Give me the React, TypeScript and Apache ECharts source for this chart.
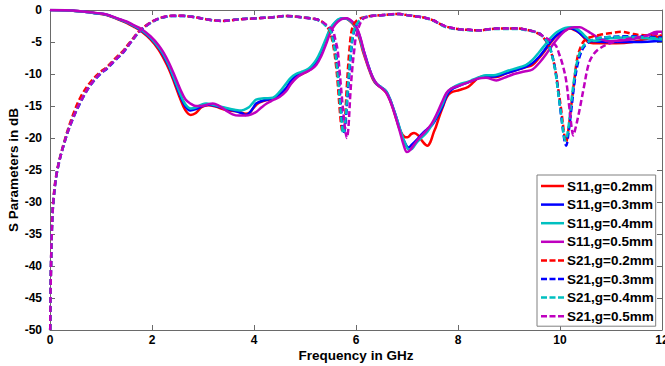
import React, { useEffect, useRef } from "react";
import * as echarts from "echarts";

const xTicks = [0, 2, 4, 6, 8, 10, 12];
const yTicks = [-50, -45, -40, -35, -30, -25, -20, -15, -10, -5, 0];

const seriesNames = [
  "S11,g=0.2mm", "S11,g=0.3mm", "S11,g=0.4mm", "S11,g=0.5mm",
  "S21,g=0.2mm", "S21,g=0.3mm", "S21,g=0.4mm", "S21,g=0.5mm",
];
const seriesColors = ["#ff0000", "#0000ff", "#00c0c0", "#bf00bf", "#ff0000", "#0000ff", "#00c0c0", "#bf00bf"];

const s11_g02 = [[0,0],[0.3,-0.02],[0.6,-0.2],[0.9,-0.5],[1.11,-0.8],[1.32,-1.4],[1.5,-2.0],[1.64,-2.6],[1.8,-3.4],[1.97,-4.6],[2.13,-6.2],[2.23,-7.6],[2.33,-9.2],[2.43,-11.2],[2.55,-13.8],[2.65,-15.6],[2.76,-16.4],[2.86,-16.1],[2.97,-15.2],[3.1,-14.9],[3.25,-15.1],[3.4,-15.5],[3.52,-15.7],[3.7,-15.9],[3.84,-16.2],[3.92,-16.0],[4.0,-15.2],[4.1,-14.5],[4.23,-14.1],[4.37,-13.9],[4.5,-13.4],[4.63,-12.5],[4.72,-11.5],[4.82,-10.6],[4.92,-10.1],[5.02,-9.7],[5.12,-9.2],[5.22,-8.4],[5.32,-6.8],[5.41,-5.0],[5.5,-3.2],[5.6,-2.1],[5.7,-1.4],[5.78,-1.3],[5.86,-1.6],[5.94,-2.2],[6.0,-3.0],[6.07,-4.5],[6.13,-6.3],[6.2,-8.0],[6.26,-9.4],[6.33,-10.8],[6.4,-11.6],[6.5,-12.2],[6.59,-12.9],[6.66,-14.0],[6.72,-15.3],[6.8,-17.3],[6.87,-18.9],[6.95,-19.8],[7.01,-19.9],[7.08,-19.4],[7.14,-19.2],[7.22,-19.6],[7.3,-20.5],[7.4,-21.2],[7.46,-20.6],[7.52,-19.2],[7.57,-18.2],[7.64,-16.5],[7.7,-15.2],[7.78,-13.6],[7.86,-12.9],[8.03,-12.5],[8.2,-12.0],[8.3,-11.3],[8.42,-10.5],[8.55,-10.4],[8.7,-10.5],[8.8,-10.4],[8.94,-9.9],[9.1,-9.5],[9.33,-8.9],[9.46,-8.6],[9.59,-7.5],[9.7,-6.4],[9.79,-5.4],[9.9,-4.3],[9.99,-3.7],[10.1,-3.2],[10.19,-2.9],[10.3,-3.2],[10.39,-3.65],[10.47,-4.3],[10.55,-5.0],[10.65,-5.2],[10.78,-5.2],[11.1,-5.2],[11.42,-5.0],[11.75,-4.4],[12,-4.1]];

const s11_g03 = [[0,0],[0.3,-0.02],[0.6,-0.2],[0.9,-0.5],[1.11,-0.75],[1.32,-1.35],[1.5,-1.9],[1.64,-2.5],[1.8,-3.25],[1.97,-4.4],[2.13,-5.9],[2.23,-7.2],[2.33,-8.8],[2.43,-10.8],[2.55,-13.3],[2.65,-15.0],[2.75,-15.7],[2.86,-15.5],[2.99,-15.0],[3.12,-14.8],[3.25,-15.0],[3.45,-15.4],[3.6,-15.7],[3.75,-16.1],[3.84,-16.4],[3.92,-16.0],[4.0,-15.1],[4.04,-14.6],[4.2,-14.1],[4.37,-13.8],[4.5,-13.2],[4.63,-12.2],[4.72,-11.1],[4.82,-10.3],[4.92,-9.9],[5.02,-9.6],[5.12,-9.1],[5.22,-8.2],[5.32,-6.6],[5.41,-4.8],[5.5,-3.0],[5.6,-1.9],[5.7,-1.35],[5.78,-1.3],[5.86,-1.5],[5.94,-2.0],[6.0,-2.7],[6.07,-4.0],[6.13,-5.8],[6.2,-7.6],[6.26,-9.1],[6.33,-10.6],[6.4,-11.5],[6.5,-12.1],[6.59,-12.7],[6.66,-13.8],[6.72,-15.1],[6.8,-17.0],[6.87,-18.9],[6.95,-20.6],[7.03,-21.5],[7.1,-21.0],[7.2,-20.2],[7.3,-19.3],[7.4,-18.6],[7.5,-17.9],[7.6,-16.6],[7.7,-15.0],[7.78,-13.4],[7.86,-12.5],[8.03,-11.8],[8.2,-11.3],[8.29,-11.0],[8.42,-10.6],[8.55,-10.4],[8.7,-10.4],[8.81,-10.2],[8.94,-9.9],[9.1,-9.5],[9.33,-8.9],[9.46,-8.3],[9.59,-7.3],[9.7,-6.2],[9.79,-5.2],[9.9,-4.2],[9.99,-3.6],[10.1,-3.0],[10.2,-2.8],[10.3,-3.1],[10.4,-3.7],[10.5,-4.4],[10.6,-4.8],[10.7,-4.9],[11.0,-5.0],[11.5,-5.0],[12,-4.8]];

const s11_g04 = [[0,0],[0.3,-0.02],[0.6,-0.2],[0.9,-0.5],[1.11,-0.75],[1.32,-1.35],[1.5,-1.9],[1.64,-2.45],[1.8,-3.15],[1.97,-4.3],[2.13,-5.8],[2.23,-7.0],[2.33,-8.6],[2.43,-10.6],[2.55,-13.0],[2.65,-14.7],[2.76,-15.4],[2.87,-15.2],[2.97,-14.8],[3.06,-14.6],[3.2,-14.8],[3.35,-15.1],[3.5,-15.4],[3.62,-15.6],[3.71,-15.7],[3.8,-15.6],[3.9,-15.2],[3.97,-14.6],[4.04,-14.0],[4.2,-13.8],[4.37,-13.7],[4.5,-12.8],[4.63,-11.5],[4.72,-10.6],[4.82,-10.0],[4.92,-9.7],[5.02,-9.4],[5.12,-8.8],[5.22,-7.8],[5.32,-6.2],[5.41,-4.5],[5.5,-2.8],[5.6,-1.8],[5.68,-1.35],[5.76,-1.3],[5.85,-1.5],[5.93,-2.0],[6.0,-2.8],[6.07,-4.2],[6.13,-6.0],[6.2,-7.8],[6.26,-9.2],[6.33,-10.6],[6.4,-11.5],[6.5,-12.1],[6.59,-12.7],[6.66,-13.8],[6.72,-15.1],[6.8,-17.0],[6.88,-19.0],[6.96,-20.8],[7.04,-21.8],[7.1,-21.7],[7.18,-20.8],[7.28,-20.0],[7.4,-19.0],[7.5,-17.8],[7.6,-16.2],[7.7,-14.6],[7.78,-13.0],[7.86,-12.3],[8.03,-11.6],[8.2,-11.2],[8.29,-10.9],[8.42,-10.5],[8.55,-10.2],[8.7,-10.2],[8.81,-10.0],[8.94,-9.6],[9.1,-9.2],[9.33,-8.6],[9.46,-7.8],[9.59,-6.6],[9.7,-5.5],[9.79,-4.6],[9.9,-3.7],[9.99,-3.2],[10.1,-2.8],[10.22,-2.7],[10.32,-2.9],[10.42,-3.5],[10.52,-4.3],[10.62,-4.8],[10.7,-4.8],[10.98,-4.4],[11.3,-4.3],[11.7,-4.4],[12,-4.6]];

const s11_g05 = [[0,0],[0.3,-0.02],[0.6,-0.18],[0.9,-0.45],[1.11,-0.7],[1.32,-1.3],[1.5,-1.8],[1.64,-2.35],[1.8,-3.0],[1.97,-4.1],[2.13,-5.5],[2.23,-6.7],[2.33,-8.2],[2.43,-10.0],[2.55,-12.3],[2.65,-13.9],[2.75,-14.6],[2.86,-15.0],[2.97,-15.0],[3.08,-14.8],[3.19,-14.6],[3.3,-14.9],[3.45,-15.7],[3.58,-16.3],[3.7,-16.5],[3.84,-16.5],[3.95,-16.3],[4.05,-15.9],[4.15,-15.2],[4.25,-14.6],[4.37,-14.1],[4.5,-13.6],[4.63,-12.7],[4.72,-11.6],[4.82,-10.7],[4.92,-10.1],[5.02,-9.7],[5.12,-9.3],[5.22,-8.6],[5.32,-7.2],[5.41,-5.4],[5.5,-3.5],[5.6,-2.2],[5.7,-1.5],[5.8,-1.3],[5.88,-1.5],[5.96,-2.1],[6.03,-3.0],[6.1,-4.7],[6.16,-6.6],[6.22,-8.3],[6.29,-9.8],[6.36,-11.0],[6.44,-11.8],[6.55,-12.5],[6.62,-13.3],[6.7,-14.8],[6.78,-16.8],[6.86,-19.0],[6.93,-21.0],[7.0,-22.2],[7.06,-21.9],[7.14,-21.0],[7.24,-20.0],[7.36,-19.0],[7.48,-17.8],[7.58,-16.3],[7.68,-14.5],[7.77,-13.0],[7.86,-12.3],[8.03,-11.8],[8.2,-11.3],[8.4,-10.7],[8.55,-10.6],[8.75,-11.0],[8.9,-10.6],[9.1,-10.0],[9.3,-9.6],[9.46,-9.3],[9.6,-8.2],[9.72,-7.0],[9.85,-5.5],[9.95,-4.5],[10.05,-3.6],[10.15,-3.0],[10.28,-2.7],[10.39,-2.7],[10.5,-3.1],[10.6,-3.6],[10.72,-4.2],[10.85,-4.7],[10.95,-4.9],[11.1,-4.8],[11.4,-4.6],[11.7,-4.0],[11.9,-3.4],[12,-3.4]];

const s21_g02 = [[0.004,-50],[0.01,-45],[0.02,-40],[0.033,-35],[0.062,-30],[0.14,-25],[0.3,-20],[0.45,-16.4],[0.6,-13.6],[0.8,-11.2],[1.0,-9.6],[1.1,-9.0],[1.3,-7.4],[1.43,-6.4],[1.6,-4.7],[1.75,-3.3],[1.92,-2.2],[2.08,-1.5],[2.25,-1.05],[2.41,-0.9],[2.6,-0.9],[2.73,-1.0],[2.9,-1.2],[3.06,-1.45],[3.25,-1.65],[3.39,-1.7],[3.55,-1.6],[3.72,-1.45],[4.04,-1.3],[4.37,-1.15],[4.63,-0.95],[4.89,-1.1],[5.1,-1.3],[5.22,-1.45],[5.33,-1.8],[5.41,-2.4],[5.48,-3.2],[5.53,-4.6],[5.57,-6.3],[5.61,-8.8],[5.64,-11.3],[5.68,-15.5],[5.72,-18.6],[5.75,-19.2],[5.78,-17.5],[5.82,-12.0],[5.87,-6.3],[5.93,-2.7],[6.03,-1.55],[6.2,-1.05],[6.5,-0.8],[6.85,-0.62],[7.0,-0.8],[7.18,-1.0],[7.35,-1.2],[7.51,-1.6],[7.65,-2.2],[7.77,-2.6],[8.02,-3.0],[8.2,-3.1],[8.42,-3.2],[8.6,-3.0],[8.81,-2.9],[9.15,-2.9],[9.46,-3.3],[9.6,-3.8],[9.67,-4.3],[9.75,-5.1],[9.82,-6.4],[9.9,-9.0],[9.96,-12.0],[10.03,-16.0],[10.09,-19.8],[10.12,-20.6],[10.16,-19.0],[10.22,-15.0],[10.28,-11.0],[10.34,-7.5],[10.42,-5.5],[10.5,-4.6],[10.62,-4.2],[10.77,-3.9],[11.0,-3.6],[11.2,-3.4],[11.4,-3.7],[11.56,-3.9],[12,-4.0]];

const s21_g03 = [[0.004,-50],[0.01,-45],[0.02,-40],[0.034,-35],[0.066,-30],[0.145,-25],[0.31,-20],[0.46,-16.8],[0.62,-14.1],[0.8,-11.7],[1.0,-9.9],[1.1,-9.3],[1.3,-7.7],[1.43,-6.7],[1.6,-4.9],[1.75,-3.4],[1.92,-2.3],[2.08,-1.55],[2.25,-1.1],[2.41,-0.92],[2.6,-0.92],[2.73,-1.02],[2.9,-1.2],[3.06,-1.45],[3.25,-1.65],[3.39,-1.72],[3.55,-1.6],[3.72,-1.45],[4.04,-1.3],[4.37,-1.12],[4.63,-0.92],[4.89,-1.1],[5.1,-1.3],[5.22,-1.45],[5.33,-1.85],[5.41,-2.4],[5.51,-3.2],[5.56,-4.6],[5.6,-6.3],[5.64,-9.0],[5.67,-11.5],[5.7,-14.5],[5.73,-17.5],[5.76,-19.3],[5.79,-18.0],[5.84,-13.0],[5.9,-7.0],[5.96,-3.4],[6.06,-1.8],[6.2,-1.1],[6.5,-0.82],[6.85,-0.63],[7.0,-0.8],[7.18,-1.0],[7.35,-1.2],[7.51,-1.6],[7.65,-2.2],[7.77,-2.6],[8.02,-3.0],[8.2,-3.1],[8.42,-3.2],[8.6,-3.0],[8.81,-2.9],[9.15,-2.9],[9.46,-3.3],[9.6,-3.7],[9.67,-4.2],[9.75,-5.0],[9.82,-6.3],[9.9,-9.0],[9.96,-12.5],[10.03,-17.0],[10.09,-20.5],[10.12,-21.2],[10.17,-19.0],[10.23,-15.0],[10.29,-11.0],[10.36,-8.0],[10.45,-6.0],[10.55,-5.1],[10.7,-4.5],[10.97,-4.2],[11.4,-4.1],[12,-4.3]];

const s21_g04 = [[0.004,-50],[0.01,-45],[0.02,-40],[0.034,-35],[0.065,-30],[0.145,-25],[0.31,-20],[0.46,-16.7],[0.62,-14.0],[0.8,-11.6],[1.0,-9.8],[1.1,-9.2],[1.3,-7.6],[1.43,-6.6],[1.6,-4.85],[1.75,-3.4],[1.92,-2.3],[2.08,-1.55],[2.25,-1.1],[2.41,-0.92],[2.6,-0.92],[2.73,-1.02],[2.9,-1.2],[3.06,-1.45],[3.25,-1.65],[3.39,-1.72],[3.55,-1.6],[3.72,-1.45],[4.04,-1.3],[4.37,-1.12],[4.63,-0.95],[4.89,-1.1],[5.1,-1.3],[5.22,-1.5],[5.33,-1.9],[5.41,-2.5],[5.5,-3.3],[5.55,-4.8],[5.59,-6.5],[5.63,-9.2],[5.66,-11.8],[5.69,-14.8],[5.72,-17.6],[5.75,-19.3],[5.78,-18.2],[5.83,-13.2],[5.89,-7.2],[5.95,-3.5],[6.05,-1.8],[6.2,-1.1],[6.5,-0.82],[6.85,-0.63],[7.0,-0.8],[7.18,-1.0],[7.35,-1.25],[7.51,-1.65],[7.65,-2.25],[7.77,-2.7],[8.02,-3.05],[8.2,-3.15],[8.42,-3.25],[8.6,-3.05],[8.81,-2.95],[9.15,-2.95],[9.46,-3.35],[9.6,-3.7],[9.67,-4.2],[9.75,-5.0],[9.82,-6.4],[9.9,-9.2],[9.96,-12.6],[10.03,-16.8],[10.08,-19.8],[10.11,-20.4],[10.16,-18.6],[10.22,-14.5],[10.28,-10.6],[10.35,-7.6],[10.44,-5.8],[10.55,-5.0],[10.7,-4.5],[10.97,-4.2],[11.4,-4.2],[12,-4.5]];

const s21_g05 = [[0.004,-50],[0.01,-45],[0.02,-40],[0.034,-35],[0.065,-30],[0.145,-25],[0.31,-20],[0.46,-16.7],[0.62,-14.0],[0.8,-11.6],[1.0,-9.8],[1.1,-9.2],[1.3,-7.6],[1.43,-6.6],[1.6,-4.85],[1.75,-3.35],[1.92,-2.25],[2.08,-1.5],[2.25,-1.05],[2.41,-0.9],[2.6,-0.9],[2.73,-1.0],[2.9,-1.2],[3.06,-1.45],[3.25,-1.65],[3.39,-1.7],[3.55,-1.6],[3.72,-1.45],[4.04,-1.3],[4.37,-1.12],[4.63,-0.92],[4.89,-1.1],[5.1,-1.3],[5.22,-1.45],[5.33,-1.8],[5.45,-2.5],[5.54,-3.1],[5.6,-4.8],[5.64,-6.3],[5.67,-8.8],[5.7,-11.5],[5.73,-14.2],[5.76,-16.7],[5.79,-18.8],[5.82,-20.0],[5.85,-18.5],[5.89,-13.0],[5.93,-8.9],[5.97,-6.0],[6.0,-4.2],[6.1,-1.8],[6.2,-1.1],[6.5,-0.82],[6.85,-0.62],[7.0,-0.8],[7.18,-1.0],[7.35,-1.2],[7.51,-1.6],[7.65,-2.2],[7.77,-2.6],[8.02,-3.0],[8.2,-3.1],[8.42,-3.2],[8.6,-3.0],[8.81,-2.9],[9.15,-2.9],[9.46,-3.3],[9.6,-3.7],[9.67,-4.1],[9.78,-4.6],[9.92,-5.6],[9.98,-6.8],[10.05,-8.5],[10.12,-11.0],[10.18,-15.0],[10.23,-18.5],[10.26,-19.6],[10.3,-18.6],[10.36,-16.5],[10.41,-14.5],[10.47,-12.0],[10.56,-8.5],[10.65,-7.0],[10.78,-6.0],[10.98,-5.2],[11.2,-4.7],[11.5,-4.3],[11.9,-3.7],[12,-3.6]];

const seriesData = [s11_g02, s11_g03, s11_g04, s11_g05, s21_g02, s21_g03, s21_g04, s21_g05];

const FONT = "Arial, 'Liberation Sans', Helvetica, sans-serif";
const AXIS_COLOR = "#6a6a6a";
const SOLID_ICON = "path://M0,0h23v2.5h-23z";
const DASH_ICON = "path://M0,0h6v2.5h-6z M8.5,0h6v2.5h-6z M17,0h6v2.5h-6z";

export default function App() {
  const ref = useRef<HTMLDivElement>(null);
  useEffect(() => {
    if (!ref.current) return;
    const chart = echarts.init(ref.current, undefined, { renderer: "svg" });
    const axisCommon = {
      axisLine: { show: true, onZero: false, lineStyle: { color: AXIS_COLOR, width: 1 } },
      axisTick: { show: true, inside: true, length: 5, lineStyle: { color: AXIS_COLOR } },
      splitLine: { show: false },
    };
    chart.setOption({
      animation: false,
      backgroundColor: "#ffffff",
      grid: { left: 50, top: 10, width: 612, height: 320, containLabel: false, outerBoundsMode: "none" },
      legend: {
        orient: "vertical",
        left: 537,
        top: 175,
        padding: [4, 2, 3, 4],
        itemGap: 4.6,
        itemWidth: 23,
        itemHeight: 14,
        symbolKeepAspect: true,
        backgroundColor: "#ffffff",
        borderColor: "#808080",
        borderWidth: 1,
        borderRadius: 0,
        textStyle: { fontFamily: FONT, fontWeight: "bold", fontSize: 13.5, color: "#000", lineHeight: 14, padding: [0, 0, 0, -2] },
        data: seriesNames.map((name, i) => ({ name, icon: i < 4 ? SOLID_ICON : DASH_ICON })),
      },
      xAxis: [
        {
          type: "value", min: 0, max: 12, interval: 2,
          name: "Frequency in GHz", nameLocation: "middle", nameGap: 18, nameMoveOverlap: false,
          nameTextStyle: { fontFamily: FONT, fontWeight: "bold", fontSize: 13.5, color: "#000", verticalAlign: "top" },
          axisLabel: {
            fontFamily: FONT, fontWeight: "bold", fontSize: 12, color: "#000", margin: 4,
            formatter: (v: number) => (xTicks.includes(v) ? String(v) : ""),
          },
          ...axisCommon,
        },
        { type: "value", min: 0, max: 12, interval: 2, position: "top", axisLabel: { show: false }, ...axisCommon },
      ],
      yAxis: [
        {
          type: "value", min: -50, max: 0, interval: 5,
          name: "S Parameters in dB", nameLocation: "middle", nameGap: 30, nameMoveOverlap: false,
          nameTextStyle: { fontFamily: FONT, fontWeight: "bold", fontSize: 13.5, color: "#000" },
          axisLabel: {
            fontFamily: FONT, fontWeight: "bold", fontSize: 12, color: "#000", margin: 8,
            formatter: (v: number) => (yTicks.includes(v) ? String(v) : ""),
          },
          ...axisCommon,
        },
        { type: "value", min: -50, max: 0, interval: 5, position: "right", axisLabel: { show: false }, ...axisCommon },
      ],
      series: seriesNames.map((name, i) => ({
        name,
        type: "line",
        data: seriesData[i],
        smooth: 0.35,
        symbol: "none",
        showSymbol: false,
        clip: true,
        color: seriesColors[i],
        itemStyle: { color: seriesColors[i] },
        lineStyle: { color: seriesColors[i], width: 2.5, type: i >= 4 ? [6, 3] : "solid" },
        z: i >= 4 ? 3 : 2,
      })),
    });
    return () => chart.dispose();
  }, []);
  return <div ref={ref} style={{ width: 665, height: 366, position: "absolute", left: 0, top: 0 }} />;
}
